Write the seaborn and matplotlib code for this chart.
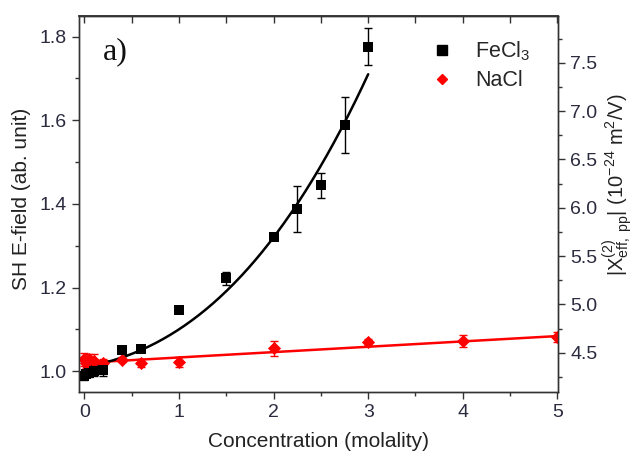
import numpy as np
import pandas as pd
import matplotlib
matplotlib.use("Agg")
import matplotlib.pyplot as plt
from matplotlib.ticker import MultipleLocator
from matplotlib.lines import Line2D
import seaborn as sns

# FeCl3 measurements: concentration (molality), SH field, error
fecl3_conc = [0.0, 0.02, 0.05, 0.1, 0.2, 0.4, 0.6, 1.0, 1.5, 2.0, 2.25, 2.5, 2.75, 3.0]
fecl3_field = [0.988, 0.993, 0.995, 1.000, 1.003, 1.050, 1.052, 1.146, 1.222, 1.322, 1.387, 1.445, 1.589, 1.776]
fecl3_err = [0.010, 0.008, 0.010, 0.012, 0.015, 0.005, 0.006, 0.007, 0.015, 0.005, 0.055, 0.030, 0.067, 0.045]

# NaCl measurements
nacl_conc = [0.0, 0.02, 0.05, 0.1, 0.2, 0.4, 0.6, 1.0, 2.0, 3.0, 4.0, 5.0]
nacl_field = [1.028, 1.020, 1.030, 1.025, 1.020, 1.027, 1.019, 1.023, 1.055, 1.069, 1.072, 1.082]
nacl_err = [0.015, 0.012, 0.012, 0.015, 0.008, 0.006, 0.010, 0.012, 0.018, 0.007, 0.015, 0.012]

# fit coefficients (ascending powers of concentration)
fecl3_fit_coef = [1.01, 0.0383, 0.045, 0.00667]
nacl_fit_coef = [1.02, 0.0128]

sns.set_theme(style="ticks")
plt.rcParams["font.family"] = ["Liberation Sans", "DejaVu Sans"]
plt.rcParams["mathtext.fontset"] = "custom"
plt.rcParams["mathtext.rm"] = "Liberation Sans"
plt.rcParams["mathtext.it"] = "Liberation Sans:italic"

tick_color = "#2b2b3f"
spine_color = "#333333"

fig = plt.figure(figsize=(6.35, 4.58), dpi=100)
ax = fig.add_axes([0.1244, 0.1448, 0.7543, 0.8209])

xf = np.linspace(0.0, 3.0, 200)
yf = np.polynomial.polynomial.polyval(xf, fecl3_fit_coef)
xn = np.linspace(0.0, 5.0, 200)
yn = np.polynomial.polynomial.polyval(xn, nacl_fit_coef)

sns.lineplot(x=xn, y=yn, color="red", linewidth=1.8, ax=ax)
sns.lineplot(x=xf, y=yf, color="black", linewidth=1.8, ax=ax)

ax.errorbar(nacl_conc, nacl_field, yerr=nacl_err, fmt="none", ecolor="red",
            elinewidth=1.0, capsize=3, capthick=1.0, zorder=3)
ax.errorbar(fecl3_conc, fecl3_field, yerr=fecl3_err, fmt="none", ecolor="black",
            elinewidth=1.0, capsize=3, capthick=1.0, zorder=3)

df_na = pd.DataFrame({"c": nacl_conc, "E": nacl_field})
df_fe = pd.DataFrame({"c": fecl3_conc, "E": fecl3_field})
sns.scatterplot(data=df_na, x="c", y="E", marker="D", s=45, color="red",
                edgecolor="red", linewidth=0, ax=ax, zorder=4)
sns.scatterplot(data=df_fe, x="c", y="E", marker="s", s=50, color="black",
                edgecolor="black", linewidth=0, ax=ax, zorder=5)

ax.set_xlim(-0.056, 5.006)
ax.set_ylim(0.951, 1.850)
ax.xaxis.set_major_locator(MultipleLocator(1))
ax.xaxis.set_minor_locator(MultipleLocator(0.5))
ax.yaxis.set_major_locator(MultipleLocator(0.2))
ax.yaxis.set_minor_locator(MultipleLocator(0.1))
ax.tick_params(axis="both", which="major", direction="out", length=5, width=1,
               labelsize=14, labelcolor=tick_color, color=spine_color, pad=4)
ax.tick_params(axis="both", which="minor", direction="out", length=3, width=1,
               color=spine_color)
ax.tick_params(axis="x", which="both", top=False)

ax.set_xlabel("Concentration (molality)", fontsize=15, color="#222222", labelpad=8)
ax.set_ylabel("SH E-field (ab. unit)", fontsize=15, color="#222222", labelpad=6)
ax.yaxis.label.set_y(0.512)

# top ticks point inward
ax_top = ax.secondary_xaxis("top")
ax_top.xaxis.set_major_locator(MultipleLocator(0.5))
ax_top.tick_params(direction="in", length=5, width=1, labeltop=False, color=spine_color)

ax2 = ax.twinx()
ax2.set_ylim(4.097, 7.986)
ax2.yaxis.set_major_locator(MultipleLocator(0.5))
ax2.yaxis.set_minor_locator(MultipleLocator(0.25))
ax2.tick_params(axis="y", which="major", direction="out", length=5, width=1,
                labelsize=14, labelcolor=tick_color, color=spine_color, pad=4)
ax2.tick_params(axis="y", which="minor", direction="out", length=3, width=1,
                color=spine_color)
ax2.set_ylabel(r"$|\mathrm{X}^{(2)}_{\mathrm{eff,\ pp}}|$ (10$^{-24}$ m$^{2}$/V)",
               fontsize=14.5, color="#222222", labelpad=2)
ax2.yaxis.label.set_y(0.55)

for a in (ax, ax2):
    for sp in a.spines.values():
        sp.set_color(spine_color)
        sp.set_linewidth(1.0)

ax.text(0.05, 0.905, "a)", transform=ax.transAxes, fontsize=23,
        family="Liberation Serif", color="#111111", va="center", ha="left")

handles = [
    Line2D([], [], marker="s", color="black", linestyle="none", markersize=6.5),
    Line2D([], [], marker="D", color="red", linestyle="none", markersize=5.5),
]
ax.legend(handles, [r"FeCl$_3$", "NaCl"], loc="upper left",
          bbox_to_anchor=(0.695, 0.96), frameon=False, fontsize=15.5,
          handletextpad=0.55, labelspacing=0.35, borderaxespad=0)

fig.savefig("out.png", dpi=100)
